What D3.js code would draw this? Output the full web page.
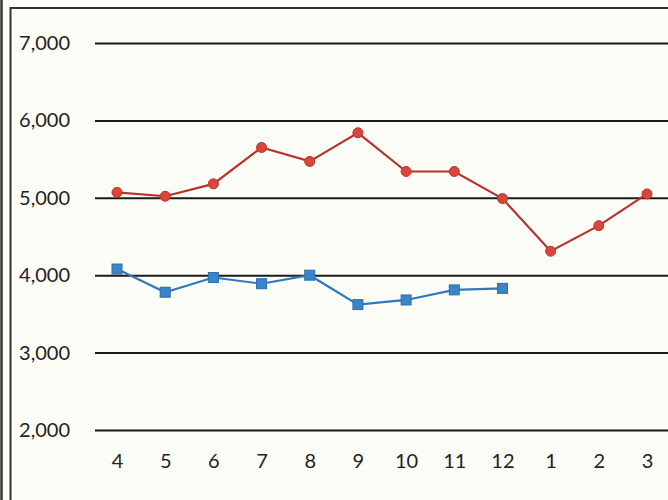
<!DOCTYPE html>
<html>
<head>
<meta charset="utf-8">
<script src="https://cdn.jsdelivr.net/npm/d3@7"></script>
<style>
  body { margin: 0; background: #fdfdf8; }
  svg { display: block; }
  .tick text { font-family: Lato, "Open Sans", sans-serif; fill: #222; }
</style>
</head>
<body>
<svg id="chart"></svg>
<script>
// Months on the x axis (fiscal year from April)
const months = ["4", "5", "6", "7", "8", "9", "10", "11", "12", "1", "2", "3"];
// Red series (full year)
const redValues = [5070, 5020, 5180, 5650, 5470, 5840, 5340, 5340, 4990, 4310, 4640, 5050];
// Blue series (April to December only)
const blueValues = [4080, 3780, 3970, 3890, 4000, 3620, 3680, 3810, 3830];
// Y ticks
const yTicks = [2000, 3000, 4000, 5000, 6000, 7000];

const width = 668, height = 500;
const gridLeft = 95;

const svg = d3.select("#chart").attr("width", width).attr("height", height);

// Background and frame
svg.append("rect").attr("width", width).attr("height", height).attr("fill", "#fdfdf8");
svg.append("line").attr("x1", 1.5).attr("x2", 1.5).attr("y1", 0).attr("y2", height)
  .attr("stroke", "#333").attr("stroke-width", 2.5);
svg.append("line").attr("x1", 10.5).attr("x2", 10.5).attr("y1", 7).attr("y2", height)
  .attr("stroke", "#333").attr("stroke-width", 2);
svg.append("line").attr("x1", 10).attr("x2", width).attr("y1", 8).attr("y2", 8)
  .attr("stroke", "#333").attr("stroke-width", 2);

// Scales
const x = d3.scalePoint().domain(months).range([117, 647]);
const y = d3.scaleLinear().domain([2000, 7000]).range([430, 43]);

// Y axis with gridlines
const yAxis = d3.axisLeft(y)
  .tickValues(yTicks)
  .tickFormat(d3.format(","))
  .tickSize(-(width - gridLeft))
  .tickPadding(25);

const gy = svg.append("g")
  .attr("transform", "translate(" + gridLeft + ",0)")
  .call(yAxis);
gy.select(".domain").remove();
gy.selectAll(".tick line").attr("stroke", "#1a1a1a").attr("stroke-width", 2);
gy.selectAll(".tick text").attr("font-size", "20px");

// X axis labels
const xAxis = d3.axisBottom(x).tickSize(0).tickPadding(24);
const gx = svg.append("g")
  .attr("transform", "translate(0,430)")
  .call(xAxis);
gx.select(".domain").remove();
gx.selectAll(".tick text").attr("font-size", "20px");

// Lines
const line = d3.line()
  .x(function (d, i) { return x(months[i]); })
  .y(function (d) { return y(d); });

svg.append("path")
  .datum(redValues)
  .attr("fill", "none")
  .attr("stroke", "#b8322a")
  .attr("stroke-width", 2.2)
  .attr("d", line);

svg.append("path")
  .datum(blueValues)
  .attr("fill", "none")
  .attr("stroke", "#2f78bd")
  .attr("stroke-width", 2.2)
  .attr("d", line);

// Markers
svg.selectAll(".red-dot")
  .data(redValues)
  .enter()
  .append("circle")
  .attr("class", "red-dot")
  .attr("cx", function (d, i) { return x(months[i]); })
  .attr("cy", function (d) { return y(d); })
  .attr("r", 5)
  .attr("fill", "#d8463c")
  .attr("stroke", "#b8322a")
  .attr("stroke-width", 1);

const sq = 10;
svg.selectAll(".blue-sq")
  .data(blueValues)
  .enter()
  .append("rect")
  .attr("class", "blue-sq")
  .attr("x", function (d, i) { return x(months[i]) - sq / 2; })
  .attr("y", function (d) { return y(d) - sq / 2; })
  .attr("width", sq)
  .attr("height", sq)
  .attr("fill", "#3b84c9")
  .attr("stroke", "#2a6fb0")
  .attr("stroke-width", 1);
</script>
</body>
</html>
